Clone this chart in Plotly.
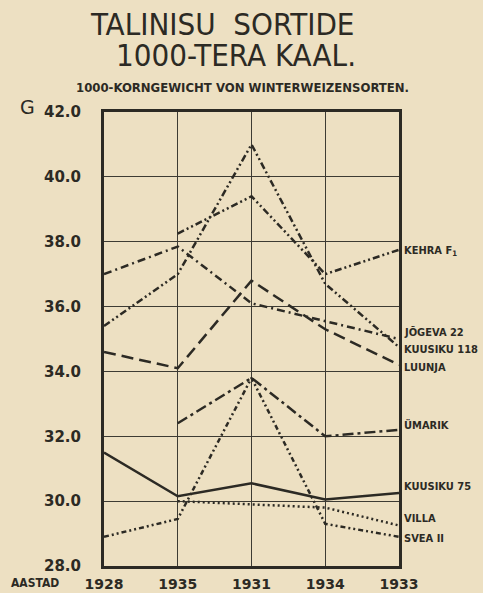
import plotly.graph_objects as go

years = ["1928", "1935", "1931", "1934", "1933"]
y_ticks = [28, 30, 32, 34, 36, 38, 40, 42]
y_tick_labels = ["28.0", "30.0", "32.0", "34.0", "36.0", "38.0", "40.0", "42.0"]

kehra_f1 = [None, 38.25, 39.4, 37.0, 37.75]
jogeva_22 = [37.0, 37.85, 36.1, 35.55, 35.0]
kuusiku_118 = [35.4, 37.0, 41.0, 36.7, 34.75]
luunja = [34.6, 34.1, 36.8, 35.3, 34.2]
umarik = [None, 32.4, 33.8, 32.0, 32.2]
kuusiku_75 = [31.5, 30.15, 30.55, 30.05, 30.25]
villa = [None, 30.0, 29.9, 29.8, 29.25]
svea_ii = [28.9, 29.45, 33.8, 29.3, 28.9]

series = [
    ("KEHRA F<sub>1</sub>", kehra_f1, "7px,3px,2px,3px,2px,3px", 37.7),
    ("JÕGEVA 22", jogeva_22, "8px,4px,2px,4px", 35.2),
    ("KUUSIKU 118", kuusiku_118, "7px,3px,2px,3px,2px,3px", 34.68),
    ("LUUNJA", luunja, "12px,6px", 34.12),
    ("ÜMARIK", umarik, "11px,4px,3px,4px", 32.35),
    ("KUUSIKU 75", kuusiku_75, "solid", 30.45),
    ("VILLA", villa, "2px,3px", 29.48),
    ("SVEA II", svea_ii, "5px,3px,2px,3px,2px,3px", 28.85),
]

ink = "#2c2a24"
paper = "#ede0c2"
narrow = "DejaVu Sans Condensed, DejaVu Sans, sans-serif"

fig = go.Figure()
xs = list(range(len(years)))
for name, vals, dash, _ in series:
    fig.add_trace(go.Scatter(
        x=xs, y=vals, mode="lines", name=name, connectgaps=False,
        line=dict(color=ink, width=2.5, dash=dash), showlegend=False,
        hoverinfo="skip",
    ))

annotations = []
for name, vals, dash, ly in series:
    annotations.append(dict(
        x=4, y=ly, xref="x", yref="y", text="<b>" + name + "</b>",
        showarrow=False, xanchor="left", yanchor="middle", xshift=3,
        font=dict(family=narrow, size=11, color=ink),
    ))

annotations += [
    dict(x=0.40, y=1.194, xref="paper", yref="paper", text="TALINISU  SORTIDE",
         showarrow=False, xanchor="center", yanchor="middle",
         font=dict(family=narrow, size=31, color=ink)),
    dict(x=0.447, y=1.1256, xref="paper", yref="paper", text="1000-TERA KAAL.",
         showarrow=False, xanchor="center", yanchor="middle",
         font=dict(family=narrow, size=31, color=ink)),
    dict(x=0.469, y=1.053, xref="paper", yref="paper",
         text="<b>1000-KORNGEWICHT VON WINTERWEIZENSORTEN.</b>",
         showarrow=False, xanchor="center", yanchor="middle",
         font=dict(family=narrow, size=13, color=ink)),
    dict(x=-0.258, y=1.012, xref="paper", yref="paper", text="G",
         showarrow=False, xanchor="center", yanchor="middle",
         font=dict(family="DejaVu Sans", size=19, color=ink)),
    dict(x=-0.234, y=-0.0374, xref="paper", yref="paper", text="<b>AASTAD</b>",
         showarrow=False, xanchor="center", yanchor="middle",
         font=dict(family=narrow, size=12, color=ink)),
]

fig.update_layout(
    width=483, height=593,
    margin=dict(l=104, r=84, t=112, b=27, autoexpand=False),
    paper_bgcolor=paper, plot_bgcolor=paper,
    annotations=annotations,
    xaxis=dict(
        range=[0, 4], tickmode="array", tickvals=xs, ticktext=years,
        showgrid=True, gridcolor="#3d3b33", gridwidth=1,
        showline=True, linecolor=ink, linewidth=3, mirror=True,
        ticks="outside", ticklen=3, tickcolor="rgba(0,0,0,0)",
        tickfont=dict(family="DejaVu Sans", size=14, color=ink, weight="bold"),
        zeroline=False, fixedrange=True, automargin=False,
    ),
    yaxis=dict(
        range=[28, 42], tickmode="array", tickvals=y_ticks, ticktext=y_tick_labels,
        showgrid=True, gridcolor="#3d3b33", gridwidth=1,
        showline=True, linecolor=ink, linewidth=3, mirror=True,
        ticks="outside", ticklen=17, tickcolor="rgba(0,0,0,0)",
        tickfont=dict(family="DejaVu Sans", size=15, color=ink, weight="bold"),
        zeroline=False, fixedrange=True, automargin=False,
    ),
)

fig.write_html(
    "out.html",
    config={"displayModeBar": False, "staticPlot": True},
    post_script="document.body.style.margin='0px';document.body.style.background='#ede0c2';",
)
